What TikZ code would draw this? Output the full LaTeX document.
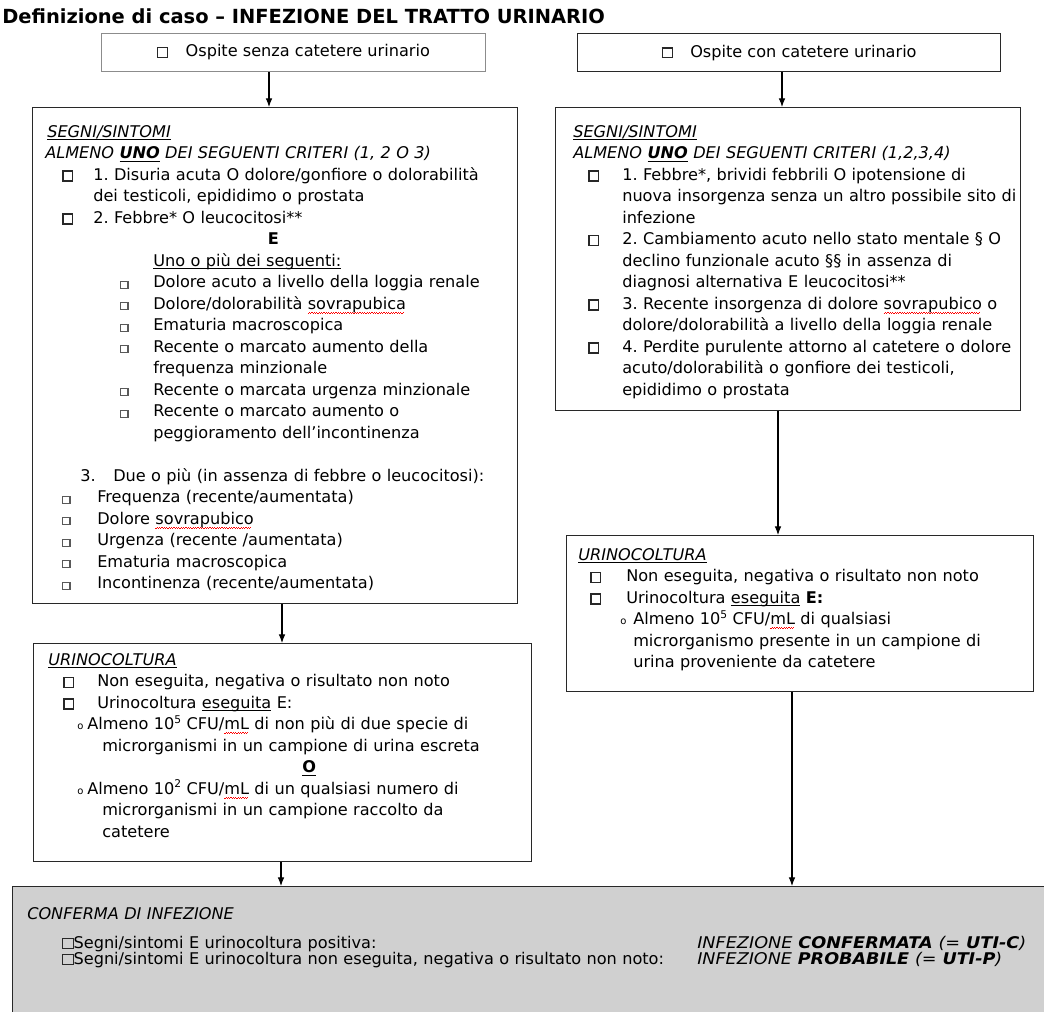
\documentclass[tikz,border=0pt]{standalone}
\usepackage{fontspec}
\setmainfont{DejaVu Sans}
\usetikzlibrary{arrows.meta,calc}
\newcommand\wv{\hbox{{\color{red}\rule{0.9pt}{0.75pt}\raisebox{0.75pt}{\rule{0.9pt}{0.75pt}}}}}
\newcommand\sq[1]{\setbox0=\hbox{#1}\rlap{\raisebox{-3.4pt}{\hbox to \wd0{\leaders\wv\hfill}}}\box0\relax}
\newcommand\ul[1]{\setbox2=\hbox{#1}\rlap{\rule[-2.2pt]{\wd2}{0.7pt}}\box2\relax}
\newcommand\sps[1]{\raisebox{0.42em}{\fontsize{8}{8}\selectfont #1}}
\definecolor{bord}{RGB}{40,40,40}
\definecolor{lbord}{RGB}{140,140,140}
\definecolor{gfill}{RGB}{208,208,208}
\newcommand\body{\fontsize{12.1}{16.125}\selectfont\frenchspacing}
\newcommand\cbB{{\color{bord}\setlength\fboxsep{0pt}\setlength\fboxrule{1pt}\fbox{\rule{0pt}{6.4pt}\rule{6.4pt}{0pt}}}}
\newcommand\cbS{{\color{black!65}\setlength\fboxsep{0pt}\setlength\fboxrule{0.8pt}\fbox{\rule{0pt}{4.6pt}\rule{4.6pt}{0pt}}}}
\newcommand\cbG{{\color{bord}\setlength\fboxsep{0pt}\setlength\fboxrule{0.55pt}\fbox{\rule{0pt}{7.4pt}\rule{7.4pt}{0pt}}}}
\newcommand\bul{{\fontsize{7.5}{7.5}\selectfont o}}
\newcommand\Ln[2]{\par\noindent\hspace*{#1pt}\mbox{#2}}
\newcommand\It[4]{\par\noindent\hspace*{#1pt}\makebox[\dimexpr#2pt-#1pt\relax][l]{#3}\mbox{#4}}
\tikzset{
  box/.style={draw=bord, line width=1pt, rectangle, inner sep=0pt, anchor=north west},
  arr/.style={draw=black, line width=0.8pt, -{Latex[length=6.5pt,width=5pt]}},
  txt/.style={anchor=north west, inner sep=0pt, font=\body, align=left},
}
\begin{document}
\begin{tikzpicture}[x=0.75pt,y=-0.75pt]
\useasboundingbox (0,0) rectangle (1044,1011);
% title
\node[anchor=base west, inner sep=0pt] (title) at (2,23)
  {\resizebox{452pt}{!}{\bfseries Definizione di caso – INFEZIONE DEL TRATTO URINARIO}};
% boxes
\node[box, draw=lbord, line width=0.8pt, minimum width=288pt, minimum height=28.5pt] (TL) at (101,33) {};
\node[box, minimum width=317.25pt, minimum height=28.5pt] (TR) at (577,33) {};
\node[box, minimum width=363.75pt, minimum height=372pt] (LB) at (32,107) {};
\node[box, minimum width=348.75pt, minimum height=227.25pt] (RB) at (555,107) {};
\node[box, minimum width=373.5pt, minimum height=163.5pt] (LU) at (33,643) {};
\node[box, minimum width=350.25pt, minimum height=117pt] (RU) at (566,535) {};
\node[box, fill=gfill, minimum width=780pt, minimum height=105pt] (G) at (12,886) {};
% top box texts
\node[font=\body, inner sep=0pt] (TLt) at (TL.center) {\cbB\hspace{13pt}Ospite senza catetere urinario};
\node[font=\body, inner sep=0pt] (TRt) at (TR.center) {\cbB\hspace{13pt}Ospite con catetere urinario};
% left symptoms
\node[txt, text width=365pt] (LBt) at (45,115.5) {%
\Ln{1.5}{\ul{\textit{SEGNI/SINTOMI}}}
\Ln{0}{\textit{ALMENO \ul{\textbf{UNO}} DEI SEGUENTI CRITERI (1, 2 O 3)}}
\It{12.75}{36}{\cbB}{1. Disuria acuta O dolore/gonfiore o dolorabilità}
\Ln{36}{dei testicoli, epididimo o prostata}
\It{12.75}{36}{\cbB}{2. Febbre* O leucocitosi**}
\Ln{0}{\makebox[342pt]{\textbf{E}}}
\Ln{81}{\ul{Uno o più dei seguenti:}}
\It{56.25}{81}{\cbS}{Dolore acuto a livello della loggia renale}
\It{56.25}{81}{\cbS}{Dolore/dolorabilità \sq{sovrapubica}}
\It{56.25}{81}{\cbS}{Ematuria macroscopica}
\It{56.25}{81}{\cbS}{Recente o marcato aumento della}
\Ln{81}{frequenza minzionale}
\It{56.25}{81}{\cbS}{Recente o marcata urgenza minzionale}
\It{56.25}{81}{\cbS}{Recente o marcato aumento o}
\Ln{81}{peggioramento dell’incontinenza}
\Ln{0}{\strut}
\It{26.25}{51}{3.}{Due o più (in assenza di febbre o leucocitosi):}
\It{12.75}{39}{\cbS}{Frequenza (recente/aumentata)}
\It{12.75}{39}{\cbS}{Dolore \sq{sovrapubico}}
\It{12.75}{39}{\cbS}{Urgenza (recente /aumentata)}
\It{12.75}{39}{\cbS}{Ematuria macroscopica}
\It{12.75}{39}{\cbS}{Incontinenza (recente/aumentata)}};
% right symptoms
\node[txt, text width=345pt] (RBt) at (573,115.5) {%
\Ln{0}{\ul{\textit{SEGNI/SINTOMI}}}
\Ln{0}{\textit{ALMENO \ul{\textbf{UNO}} DEI SEGUENTI CRITERI (1,2,3,4)}}
\It{11.25}{36.75}{\cbB}{1. Febbre*, brividi febbrili O ipotensione di}
\Ln{36.75}{nuova insorgenza senza un altro possibile sito di}
\Ln{36.75}{infezione}
\It{11.25}{36.75}{\cbB}{2. Cambiamento acuto nello stato mentale § O}
\Ln{36.75}{declino funzionale acuto §§ in assenza di}
\Ln{36.75}{diagnosi alternativa E leucocitosi**}
\It{11.25}{36.75}{\cbB}{3. Recente insorgenza di dolore \sq{sovrapubico} o}
\Ln{36.75}{dolore/dolorabilità a livello della loggia renale}
\It{11.25}{36.75}{\cbB}{4. Perdite purulente attorno al catetere o dolore}
\Ln{36.75}{acuto/dolorabilità o gonfiore dei testicoli,}
\Ln{36.75}{epididimo o prostata}};
% left urinocoltura
\node[txt, text width=370pt] (LUt) at (48,643.5) {%
\Ln{0}{\ul{\textit{URINOCOLTURA}}}
\It{11.25}{36.75}{\cbB}{Non eseguita, negativa o risultato non noto}
\It{11.25}{36.75}{\cbB}{Urinocoltura \ul{eseguita} E:}
\It{21.75}{29.25}{\bul}{\makebox[321pt][s]{Almeno 10\sps{5} CFU/\sq{mL} di non più di due specie di}}
\Ln{40.5}{\makebox[309.75pt][s]{microrganismi in un campione di urina escreta}}
\Ln{0}{\makebox[391.5pt]{\ul{\textbf{O}}}}
\It{21.75}{29.25}{\bul}{\makebox[321pt][s]{Almeno 10\sps{2} CFU/\sq{mL} di un qualsiasi numero di}}
\Ln{40.5}{\makebox[309.75pt][s]{microrganismi in un campione raccolto da}}
\Ln{40.5}{catetere}};
% right urinocoltura
\node[txt, text width=345pt] (RUt) at (578,538.5) {%
\Ln{0}{\ul{\textit{URINOCOLTURA}}}
\It{9}{36}{\cbB}{Non eseguita, negativa o risultato non noto}
\It{9}{36}{\cbB}{Urinocoltura \ul{eseguita} \textbf{E:}}
\It{31.5}{41.25}{\bul}{\makebox[288pt][s]{Almeno 10\sps{5} CFU/\sq{mL} di qualsiasi}}
\Ln{41.25}{\makebox[288pt][s]{microrganismo presente in un campione di}}
\Ln{41.25}{urina proveniente da catetere}};
% confirmation
\node[txt, text width=760pt, font=\fontsize{12.1}{12}\selectfont\frenchspacing] (Gt) at (27,903) {%
\Ln{0}{\textit{CONFERMA DI INFEZIONE}}\par\vspace{9.75pt}
\Ln{26.25}{\makebox[476.25pt][l]{\cbG Segni/sintomi E urinocoltura positiva:}\resizebox{246.75pt}{\height}{\textit{INFEZIONE \textbf{CONFERMATA} (= \textbf{UTI-C})}}}
\Ln{26.25}{\makebox[476.25pt][l]{\cbG Segni/sintomi E urinocoltura non eseguita, negativa o risultato non noto:}\resizebox{228.75pt}{\height}{\textit{INFEZIONE \textbf{PROBABILE} (= \textbf{UTI-P})}}}};
% connectors
\coordinate (x1) at (269,0);
\coordinate (x2) at (782,0);
\coordinate (x3) at (282,0);
\coordinate (x4) at (778,0);
\coordinate (x5) at (281,0);
\coordinate (x6) at (792,0);
\draw[arr] (x1 |- TL.south) -- (x1 |- LB.north);
\draw[arr] (x2 |- TR.south) -- (x2 |- RB.north);
\draw[arr] (x3 |- LB.south) -- (x3 |- LU.north);
\draw[arr] (x4 |- RB.south) -- (x4 |- RU.north);
\draw[arr] (x5 |- LU.south) -- (x5 |- G.north);
\draw[arr] (x6 |- RU.south) -- (x6 |- G.north);
\end{tikzpicture}
\end{document}
